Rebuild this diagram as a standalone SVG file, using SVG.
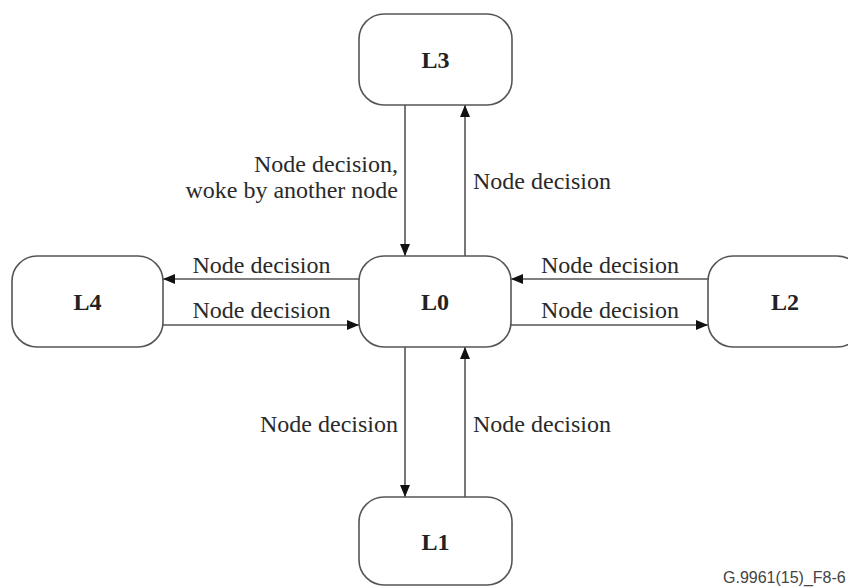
<svg xmlns="http://www.w3.org/2000/svg" width="848" height="587" viewBox="0 0 848 587">
<style>
.node{fill:#fff;stroke:#555;stroke-width:1.6}
.nl{font-family:"Liberation Serif","Times New Roman",serif;font-size:24px;font-weight:bold;fill:#222;text-anchor:middle}
.lbl{font-family:"Liberation Serif","Times New Roman",serif;font-size:24px;fill:#2a2a2a}
.conn{stroke:#555;stroke-width:1.6;fill:none;marker-end:url(#ah)}
.foot{font-family:"Liberation Sans",Arial,sans-serif;font-size:16px;fill:#444}
</style>
<defs>
<marker id="ah" markerUnits="userSpaceOnUse" markerWidth="12" markerHeight="10" refX="12" refY="5" orient="auto">
<path d="M0,0 L12,5 L0,10 z" fill="#111"/>
</marker>
</defs>
<rect width="848" height="587" fill="#fff"/>
<g id="connectors">
<line class="conn" x1="405" y1="105" x2="405" y2="256"/>
<line class="conn" x1="465" y1="256" x2="465" y2="105"/>
<line class="conn" x1="359" y1="279" x2="163" y2="279"/>
<line class="conn" x1="163" y1="325" x2="359" y2="325"/>
<line class="conn" x1="708" y1="279" x2="511" y2="279"/>
<line class="conn" x1="511" y1="325" x2="708" y2="325"/>
<line class="conn" x1="405" y1="347" x2="405" y2="497"/>
<line class="conn" x1="465" y1="497" x2="465" y2="347"/>
</g>
<g id="labels">
<text class="lbl" x="398" y="172" text-anchor="end">Node decision,</text>
<text class="lbl" x="398" y="198" text-anchor="end">woke by another node</text>
<text class="lbl" x="473" y="189">Node decision</text>
<text class="lbl" x="261.5" y="273" text-anchor="middle">Node decision</text>
<text class="lbl" x="261.5" y="318" text-anchor="middle">Node decision</text>
<text class="lbl" x="610" y="273" text-anchor="middle">Node decision</text>
<text class="lbl" x="610" y="318" text-anchor="middle">Node decision</text>
<text class="lbl" x="398" y="432" text-anchor="end">Node decision</text>
<text class="lbl" x="473" y="432">Node decision</text>
</g>
<g id="L3">
<rect class="node" x="359" y="14" width="153" height="91" rx="25" ry="25"/>
<text class="nl" x="435.5" y="68">L3</text>
</g>
<g id="L0">
<rect class="node" x="359" y="256" width="152" height="91" rx="25" ry="25"/>
<text class="nl" x="435" y="310">L0</text>
</g>
<g id="L4">
<rect class="node" x="12" y="256" width="151" height="91" rx="25" ry="25"/>
<text class="nl" x="87.5" y="310">L4</text>
</g>
<g id="L2">
<rect class="node" x="708" y="256" width="154" height="91" rx="25" ry="25"/>
<text class="nl" x="785" y="310">L2</text>
</g>
<g id="L1">
<rect class="node" x="359" y="497" width="153" height="88" rx="25" ry="25"/>
<text class="nl" x="435.5" y="550">L1</text>
</g>
<text class="foot" x="723" y="583">G.9961(15)_F8-6</text>
</svg>
